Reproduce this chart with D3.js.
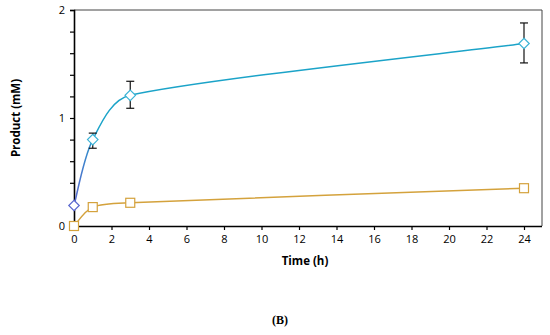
<!DOCTYPE html>
<html>
<head>
<meta charset="utf-8">
<script src="https://cdn.jsdelivr.net/npm/d3@7"></script>
<style>
  body { margin: 0; background: #fff; }
  svg { display: block; font-family: "Open Sans", "Liberation Sans", sans-serif; }
</style>
</head>
<body>
<svg id="chart" width="550" height="335"></svg>
<script>
// data
const time = [0, 1, 3, 24];
const product_a = [0.19, 0.80, 1.21, 1.69];   // diamonds
const err_lo_a = [null, 0.72, 1.09, 1.51];
const err_hi_a = [null, 0.86, 1.34, 1.88];
const product_b = [0, 0.175, 0.215, 0.35];    // squares
const x_ticks = d3.range(0, 25, 2);
const y_ticks = [0, 1, 2];

const svg = d3.select("#chart");
const m_left = 74, m_right = 542, m_top = 10, m_bottom = 226;
const blue = "#1ba3c8", orange = "#d4a23c";

const x = d3.scaleLinear().domain([0, 25]).range([m_left, m_left + 25 * 18.75]);
const y = d3.scaleLinear().domain([0, 2]).range([m_bottom, m_top]);

// plot frame (thin, top + right)
svg.append("path")
    .attr("d", `M${m_left},${m_top}H${m_right}V${m_bottom}`)
    .attr("fill", "none").attr("stroke", "#444").attr("stroke-width", 1);

// y axis
const yAxis = svg.append("g").attr("transform", `translate(${m_left},0)`)
    .call(d3.axisLeft(y).tickValues(d3.range(0, 2.01, 0.2)).tickSize(4).tickFormat(""));
yAxis.select(".domain").attr("stroke-width", 1.6);
yAxis.selectAll(".tick line").attr("stroke-width", 1.2);
svg.append("g").selectAll("text").data(y_ticks).join("text")
    .attr("x", m_left - 9).attr("y", d => y(d) + 4)
    .attr("text-anchor", "end").attr("font-size", 11).text(d => d);

// x axis
const xAxis = svg.append("g").attr("transform", `translate(0,${m_bottom})`)
    .call(d3.axisBottom(x).tickValues(x_ticks).tickSize(4).tickSizeOuter(0));
xAxis.select(".domain").attr("d", `M${m_left},0.5H${m_right}`).attr("stroke-width", 1.6);
xAxis.selectAll(".tick line").attr("stroke-width", 1.2);
xAxis.selectAll(".tick text").attr("font-size", 11).attr("dy", "0.9em")
    .attr("font-family", "\"Open Sans\", sans-serif");

// axis titles
svg.append("text").attr("x", 305).attr("y", 265).attr("text-anchor", "middle")
    .attr("font-size", 11.5).attr("font-weight", "bold").text("Time (h)");
svg.append("text").attr("transform", `translate(20,${(m_top + m_bottom) / 2}) rotate(-90)`)
    .attr("text-anchor", "middle").attr("font-size", 11.5).attr("font-weight", "bold")
    .text("Product (mM)");
svg.append("text").attr("x", 280).attr("y", 324).attr("text-anchor", "middle")
    .attr("font-size", 12).attr("font-weight", "bold")
    .attr("font-family", "\"Liberation Serif\", serif").text("(B)");

// gradient for first blue segment
const grad = svg.append("defs").append("linearGradient").attr("id", "gblue")
    .attr("gradientUnits", "userSpaceOnUse")
    .attr("x1", x(0)).attr("x2", x(1.3)).attr("y1", 0).attr("y2", 0);
grad.append("stop").attr("offset", "0%").attr("stop-color", "#5a68cf");
grad.append("stop").attr("offset", "100%").attr("stop-color", blue);

// spreadsheet-style smoothed line: bezier arms = (next - prev)/6, capped to a third of the segment
function smooth_path(vals) {
    const pts = time.map((t, i) => [x(t), y(vals[i])]);
    const n = pts.length;
    const tan = pts.map((q, i) => {
        const a = pts[Math.max(i - 1, 0)], b = pts[Math.min(i + 1, n - 1)];
        return [(b[0] - a[0]) / 6, (b[1] - a[1]) / 6];
    });
    const cap = (v, max) => {
        const l = Math.hypot(v[0], v[1]);
        return l > max ? [v[0] * max / l, v[1] * max / l] : v;
    };
    const p = d3.path();
    p.moveTo(pts[0][0], pts[0][1]);
    for (let i = 0; i < n - 1; i++) {
        const a = pts[i], b = pts[i + 1];
        const len = Math.hypot(b[0] - a[0], b[1] - a[1]);
        const c1 = cap(tan[i], len / 3), c2 = cap(tan[i + 1], len / 3);
        p.bezierCurveTo(a[0] + c1[0], a[1] + c1[1], b[0] - c2[0], b[1] - c2[1], b[0], b[1]);
    }
    return p.toString();
}

svg.append("path").attr("d", smooth_path(product_b))
    .attr("fill", "none").attr("stroke", orange).attr("stroke-width", 1.5);
svg.append("path").attr("d", smooth_path(product_a))
    .attr("fill", "none").attr("stroke", "url(#gblue)").attr("stroke-width", 1.5);

// error bars
const eb = svg.append("g").attr("stroke", "#111").attr("stroke-width", 1.2);
time.forEach((t, i) => {
    if (err_lo_a[i] == null) return;
    const cx = x(t);
    eb.append("line").attr("x1", cx).attr("x2", cx).attr("y1", y(err_lo_a[i])).attr("y2", y(err_hi_a[i]));
    eb.append("line").attr("x1", cx - 4).attr("x2", cx + 4).attr("y1", y(err_lo_a[i])).attr("y2", y(err_lo_a[i]));
    eb.append("line").attr("x1", cx - 4).attr("x2", cx + 4).attr("y1", y(err_hi_a[i])).attr("y2", y(err_hi_a[i]));
});

// markers
svg.append("g").selectAll("rect").data(time).join("rect")
    .attr("x", d => x(d) - 4.5).attr("y", (d, i) => y(product_b[i]) - 4.5)
    .attr("width", 9).attr("height", 9)
    .attr("fill", "#fff").attr("stroke", orange).attr("stroke-width", 1.2);
const diamond = d3.symbol().type(d3.symbolDiamond2).size(70);
svg.append("g").selectAll("path").data(time).join("path")
    .attr("transform", (d, i) => `translate(${x(d)},${y(product_a[i])})`)
    .attr("d", diamond)
    .attr("fill", "#fff").attr("stroke", (d, i) => i == 0 ? "#5a68cf" : "#3ab3d6").attr("stroke-width", 1.2);
</script>
</body>
</html>
